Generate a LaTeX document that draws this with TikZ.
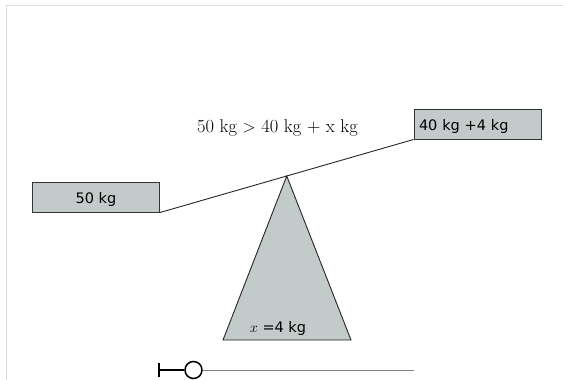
\documentclass[tikz,border=0pt]{standalone}
\usepackage{fontspec}
\newfontfamily\guifont{DejaVu Sans}
\usetikzlibrary{positioning,calc}
\definecolor{massgray}{HTML}{C2CACA}
\definecolor{framegray}{HTML}{DDDDDD}
\begin{document}
\begin{tikzpicture}[x=1pt, y=-1pt,
  box/.style={draw=black!80, fill=massgray, line width=1pt, minimum width=127pt, minimum height=30pt, inner sep=0pt, text height=13pt, text depth=0pt, font=\guifont\fontsize{14.5}{17}\selectfont},
  beam/.style={draw=black!85, line width=0.9pt},
  label/.style={font=\fontsize{18.5}{22}\selectfont}
]
\useasboundingbox (0,0) rectangle (563,380);
\draw[framegray, line width=1pt] (6,380) -- (6,5) -- (563,5);

\node[box] (lbox) at (96,197) {50 kg};
\node[box, text width=117pt, align=left] (rbox) at (477.5,124) {40 kg +4 kg};
\draw[beam] (lbox.south east) -- (rbox.south west);
\coordinate (pivot) at ($(lbox.south east)!0.5!(rbox.south west)$);

\filldraw[fill=massgray, draw=black!85, line width=0.9pt] (pivot) -- (351,340) -- (223,340) -- cycle;
\node[font=\guifont\fontsize{14.5}{17}\selectfont] (xval) at (278,328.5) {$x$ =4 kg};

\node[label] (ineq) at (277.5,128) {50 kg $>$ 40 kg + x kg};

% slider
\coordinate (s0) at (159,370);
\coordinate (s1) at (414,370);
\node[circle, draw=black, fill=white, line width=1.5pt, minimum size=17pt, inner sep=0pt] (knob) at (193.5,370) {};
\draw[black!50, line width=0.9pt] (knob) -- (s1);
\draw[black, line width=2.4pt] (s0) -- (knob);
\draw[black, line width=1.4pt] ($(s0)+(0,-7)$) -- ($(s0)+(0,7)$);
\end{tikzpicture}
\end{document}
